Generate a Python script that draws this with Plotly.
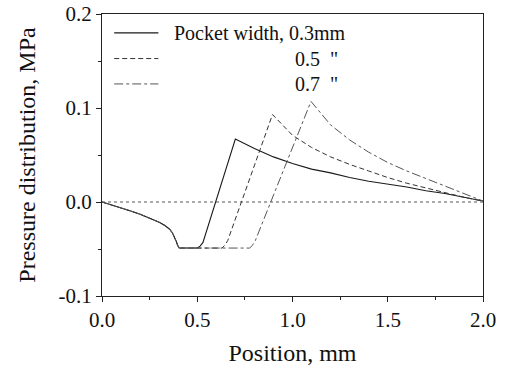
import plotly.graph_objects as go

# ---- data ----
series_names = ["Pocket width, 0.3mm", "0.5\u00a0\u00a0\"", "0.7\u00a0\u00a0\""]

# shared suction region before the pocket
x_common = [0.0, 0.05, 0.10, 0.15, 0.20, 0.25, 0.30, 0.33, 0.355, 0.37, 0.38, 0.39, 0.397, 0.405]
y_common = [0.0, -0.003, -0.0065, -0.0095, -0.013, -0.017, -0.0215, -0.025, -0.029, -0.033, -0.037, -0.042, -0.046, -0.049]

x_w03 = [0.50, 0.515, 0.53, 0.70, 0.80, 0.90, 1.00, 1.10, 1.20, 1.30, 1.40, 1.50, 1.60, 1.70, 1.80, 1.90, 2.00]
y_w03 = [-0.049, -0.047, -0.043, 0.067, 0.057, 0.048, 0.041, 0.035, 0.031, 0.026, 0.022, 0.019, 0.016, 0.012, 0.009, 0.005, 0.001]

x_w05 = [0.63, 0.645, 0.66, 0.895, 1.00, 1.10, 1.20, 1.30, 1.40, 1.50, 1.60, 1.70, 1.80, 1.90, 2.00]
y_w05 = [-0.049, -0.046, -0.041, 0.093, 0.071, 0.058, 0.048, 0.040, 0.033, 0.026, 0.020, 0.015, 0.010, 0.005, 0.001]

x_w07 = [0.775, 0.79, 0.805, 1.097, 1.20, 1.30, 1.40, 1.50, 1.60, 1.70, 1.80, 1.90, 2.00]
y_w07 = [-0.049, -0.046, -0.041, 0.107, 0.082, 0.066, 0.053, 0.042, 0.033, 0.025, 0.017, 0.009, 0.001]

x_ticks = [0.0, 0.5, 1.0, 1.5, 2.0]
y_ticks = [-0.1, 0.0, 0.1, 0.2]

FONT = "Liberation Serif"
styles = [
    dict(color="#1a1a1a", width=1.1, dash="solid"),
    dict(color="#333333", width=1.0, dash="5px,3px"),
    dict(color="#555555", width=1.0, dash="9px,3px,3px,3px"),
]

fig = go.Figure()
for name, xs, ys, st in zip(series_names,
                            [x_w03, x_w05, x_w07],
                            [y_w03, y_w05, y_w07], styles):
    fig.add_trace(go.Scatter(x=x_common + xs, y=y_common + ys, mode="lines",
                             name=name, line=st, showlegend=False))

# dotted zero reference line
fig.add_shape(type="line", xref="x domain", yref="y", x0=0, x1=1, y0=0, y1=0,
              line=dict(color="#555555", width=1, dash="dot"))

# manual legend (long line samples)
leg_y = [0.933, 0.842, 0.752]
leg_text_x = [0.184, 0.50, 0.50]
for name, st, ly, tx in zip(series_names, styles, leg_y, leg_text_x):
    fig.add_shape(type="line", xref="paper", yref="paper", x0=0.032, x1=0.148,
                  y0=ly, y1=ly, line=st)
    fig.add_annotation(xref="paper", yref="paper", x=tx, y=ly, text=name,
                       showarrow=False, xanchor="left", yanchor="middle",
                       font=dict(family=FONT, size=20, color="#111"))

axis_common = dict(
    showline=True, linecolor="#222", linewidth=1.2, mirror=True,
    ticks="outside", ticklen=5, tickwidth=1, tickcolor="#222",
    showgrid=False, zeroline=False,
    tickfont=dict(family=FONT, size=21, color="#111"),
)

fig.update_xaxes(range=[0, 2.0], tickvals=x_ticks,
                 ticktext=[f"{v:.1f}" for v in x_ticks],
                 minor=dict(dtick=0.25, ticks="outside", ticklen=3, tickcolor="#222"),
                 title=dict(text="Position, mm", font=dict(family=FONT, size=24, color="#111"),
                            standoff=12),
                 **axis_common)
fig.update_yaxes(range=[-0.1, 0.2], tickvals=y_ticks,
                 ticktext=[f"{v:.1f}" for v in y_ticks],
                 minor=dict(dtick=0.05, ticks="outside", ticklen=3, tickcolor="#222"),
                 title=dict(text="Pressure distribution, MPa",
                            font=dict(family=FONT, size=24, color="#111"), standoff=16),
                 **axis_common)

fig.update_layout(
    width=507, height=370,
    font=dict(family=FONT),
    margin=dict(l=102, r=24, t=14, b=74, autoexpand=False),
    plot_bgcolor="white", paper_bgcolor="white",
    showlegend=False,
)

fig.write_html("out.html", config={"displayModeBar": False},
               post_script="document.body.style.margin='0';document.body.style.padding='0';")
